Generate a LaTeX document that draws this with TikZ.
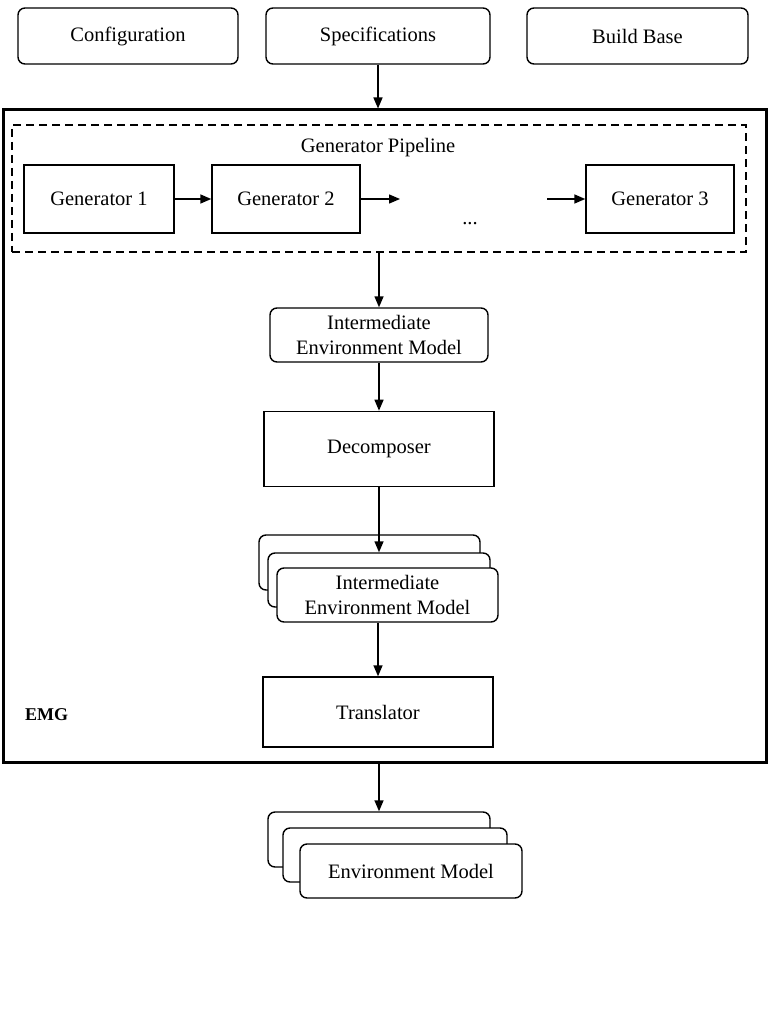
\documentclass[tikz,border=0pt]{standalone}
\usepackage{fontspec}
\setmainfont{Liberation Serif}
\usepackage{tikz}
\usetikzlibrary{arrows.meta,positioning}

\begin{document}
\begin{tikzpicture}[x=1pt,y=1pt,line width=1.4pt,
  >={Triangle[length=11pt,width=9pt]},
  every node/.style={font=\fontsize{20.5}{25}\selectfont},
  rbox/.style={draw,rounded corners=7pt,fill=white,inner sep=0pt,align=center},
  sbox/.style={draw,fill=white,inner sep=0pt,align=center}]
\useasboundingbox (0,0) rectangle (776,-1024);

\node[rbox,minimum width=220,minimum height=56] (conf) at (128,-36) {Configuration};
\node[rbox,minimum width=224,minimum height=56] (spec) at (378,-36) {Specifications};
\node[rbox,minimum width=221,minimum height=56] (base) at (637.5,-36) {Build Base};

\node[draw,line width=3pt,minimum width=763,minimum height=652,inner sep=0pt] (emg) at (384.5,-436) {};
\node[font=\fontsize{18}{20}\selectfont\bfseries,anchor=west] (emglabel) at (21,-715) {EMG};

\node[draw,dash pattern=on 8pt off 5pt,line width=1.4pt,minimum width=734,minimum height=127,inner sep=0pt] (pipe) at (379,-188.5) {};
\node (pipelabel) at (378,-148) {Generator Pipeline};
\node[sbox,minimum width=150,minimum height=68] (gen1) at (99,-199) {Generator 1};
\node[sbox,minimum width=148,minimum height=68] (gen2) at (286,-199) {Generator 2};
\node[sbox,minimum width=148,minimum height=68] (gen3) at (660,-199) {Generator 3};
\node (dots) at (470,-224) {...};
\coordinate (gap1) at (400,-199);
\coordinate (gap2) at (547,-199);

\node[rbox,minimum width=218,minimum height=54] (iem) at (379,-335) {Intermediate\\Environment Model};
\node[sbox,minimum width=230,minimum height=75] (dec) [below=48pt of iem] {Decomposer};

\node[rbox,minimum width=221,minimum height=55] (iemc) at (369.5,-562.5) {};
\node[rbox,minimum width=222,minimum height=54] (iemb) at (379,-580) {};
\node[rbox,minimum width=221,minimum height=54] (iema) at (387.5,-595) {Intermediate\\Environment Model};

\node[sbox,minimum width=230,minimum height=70] (trans) at (378,-712) {Translator};

\node[rbox,minimum width=222,minimum height=55] (envc) at (379,-839.5) {};
\node[rbox,minimum width=224,minimum height=54] (envb) at (395,-855) {};
\node[rbox,minimum width=222,minimum height=54] (enva) at (411,-871) {Environment Model};

\path[->] (spec) edge (spec.south |- emg.north);
\path[->] (gen1) edge (gen2);
\path[->] (gen2) edge (gap1);
\path[->] (gap2) edge (gen3);
\path[->] (pipe) edge (iem);
\path[->] (iem) edge (dec);
\path[->] (dec) edge (dec.south |- iemb.north);
\path[->] (trans.north |- iema.south) edge (trans);
\path[->] (emg.south -| envc.north) edge (envc.north);

\end{tikzpicture}
\end{document}
